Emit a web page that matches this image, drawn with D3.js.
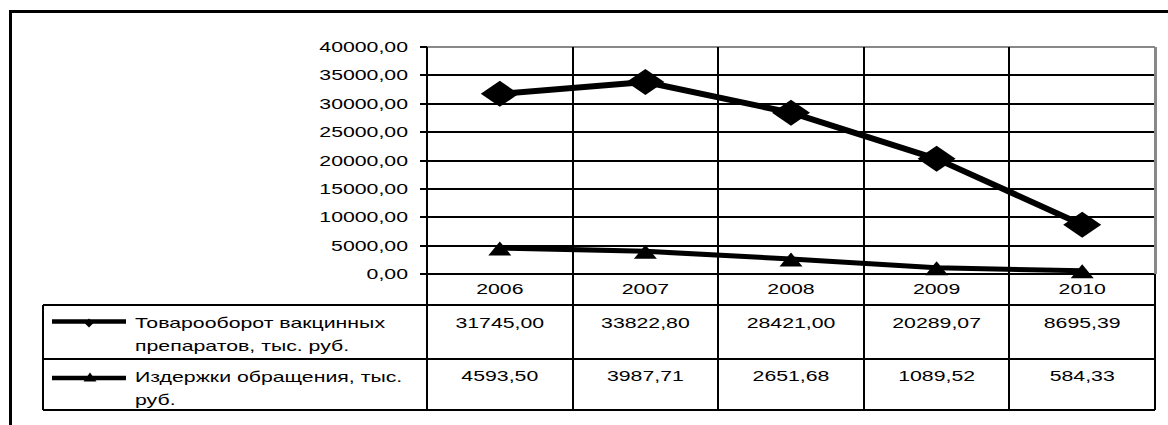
<!DOCTYPE html>
<html>
<head>
<meta charset="utf-8">
<script src="https://cdn.jsdelivr.net/npm/d3@7"></script>
<style>
  html, body { margin: 0; padding: 0; background: #fff; }
  svg { display: block; }
  text { font-family: "Liberation Sans", Arial, sans-serif; font-size: 14px; fill: #000; }
</style>
</head>
<body>
<svg id="chart" width="1168" height="425"></svg>
<script>
// ---- data ----
const categories = ["2006", "2007", "2008", "2009", "2010"];
const turnover = [31745.00, 33822.80, 28421.00, 20289.07, 8695.39];
const costs = [4593.50, 3987.71, 2651.68, 1089.52, 584.33];
const yTicks = [0, 5000, 10000, 15000, 20000, 25000, 30000, 35000, 40000];
const turnoverLabels = ["31745,00", "33822,80", "28421,00", "20289,07", "8695,39"];
const costsLabels = ["4593,50", "3987,71", "2651,68", "1089,52", "584,33"];
const turnoverName = ["Товарооборот вакцинных", "препаратов, тыс. руб."];
const costsName = ["Издержки обращения, тыс.", "руб."];

// ---- layout ----
const SX = 1.52; // horizontal stretch of the text in the reference
const plotL = 427, plotR = 1155, plotT = 47, plotB = 274;
const tableL = 43, row1T = 305, row2T = 359, tableB = 410;

const svg = d3.select("#chart");
const x = d3.scaleBand().domain(categories).range([plotL, plotR]);
const y = d3.scaleLinear().domain([0, 40000]).range([plotB, plotT]);
const cx = c => x(c) + x.bandwidth() / 2;
const fmt = v => v.toFixed(2).replace(".", ",");

function stretchedText(g, tx, ty, str, anchor) {
  return g.append("text")
    .attr("transform", `translate(${tx},${ty}) scale(${SX},1)`)
    .attr("text-anchor", anchor)
    .text(str);
}

// outer frame (partially visible)
svg.append("path").attr("d", "M10,425 V11 H1168")
  .attr("fill", "none").attr("stroke", "#000").attr("stroke-width", 3)
  .attr("shape-rendering", "crispEdges");

// horizontal gridlines
svg.append("g").attr("shape-rendering", "crispEdges")
  .selectAll("line").data(yTicks).join("line")
  .attr("x1", plotL).attr("x2", plotR)
  .attr("y1", d => Math.round(y(d))).attr("y2", d => Math.round(y(d)))
  .attr("stroke", d => d === 40000 ? "#888" : "#000")
  .attr("stroke-width", 2);

// vertical gridlines (through plot and table)
svg.append("g").attr("shape-rendering", "crispEdges")
  .selectAll("line").data(categories.slice(1)).join("line")
  .attr("x1", d => Math.round(x(d))).attr("x2", d => Math.round(x(d)))
  .attr("y1", plotT).attr("y2", tableB)
  .attr("stroke", "#000").attr("stroke-width", 2);

// right border
svg.append("line").attr("x1", plotR).attr("x2", plotR).attr("y1", plotT).attr("y2", plotB)
  .attr("stroke", "#888").attr("stroke-width", 3).attr("shape-rendering", "crispEdges");
svg.append("line").attr("x1", plotR).attr("x2", plotR).attr("y1", plotB).attr("y2", tableB)
  .attr("stroke", "#000").attr("stroke-width", 2).attr("shape-rendering", "crispEdges");

// y axis
const yAxis = svg.append("g").attr("transform", `translate(${plotL},0)`)
  .call(d3.axisLeft(y).tickValues(yTicks).tickSize(7).tickSizeOuter(0).tickFormat(fmt));
yAxis.select(".domain").remove();
yAxis.selectAll(".tick").attr("transform", d => `translate(0,${Math.round(y(d))})`);
yAxis.selectAll(".tick line").attr("stroke", "#000").attr("stroke-width", 2)
  .attr("shape-rendering", "crispEdges");
yAxis.selectAll(".tick text")
  .attr("x", null).attr("dy", null)
  .attr("transform", `translate(-19,5) scale(${SX},1)`)
  .attr("text-anchor", "end")
  .attr("fill", "#000")
  .style("font-family", '"Liberation Sans", Arial, sans-serif')
  .style("font-size", "14px");
svg.append("line").attr("x1", plotL).attr("x2", plotL).attr("y1", plotT).attr("y2", tableB)
  .attr("stroke", "#000").attr("stroke-width", 2.5).attr("shape-rendering", "crispEdges");

// table lines
[row1T, row2T, tableB].forEach(ty => {
  svg.append("line").attr("x1", tableL).attr("x2", plotR).attr("y1", ty).attr("y2", ty)
    .attr("stroke", "#000").attr("stroke-width", 2).attr("shape-rendering", "crispEdges");
});
svg.append("line").attr("x1", tableL).attr("x2", tableL).attr("y1", row1T).attr("y2", tableB)
  .attr("stroke", "#000").attr("stroke-width", 2).attr("shape-rendering", "crispEdges");

// table text
const tg = svg.append("g");
categories.forEach((c, i) => {
  stretchedText(tg, cx(c), 294, c, "middle");
  stretchedText(tg, cx(c), 328, turnoverLabels[i], "middle");
  stretchedText(tg, cx(c), 381, costsLabels[i], "middle");
});
turnoverName.forEach((s, i) => stretchedText(tg, 135, 328 + i * 23, s, "start"));
costsName.forEach((s, i) => stretchedText(tg, 135, 382 + i * 23, s, "start"));

// marker shapes
const diamond = (w, h) => `M${-w/2},0 L0,${-h/2} L${w/2},0 L0,${h/2} Z`;
const triangle = (w, h) => `M0,${-h/2} L${w/2},${h/2} L${-w/2},${h/2} Z`;

// legend keys
svg.append("line").attr("x1", 52).attr("x2", 126).attr("y1", 321.5).attr("y2", 321.5)
  .attr("stroke", "#000").attr("stroke-width", 4.5);
svg.append("path").attr("d", diamond(9, 9)).attr("transform", "translate(89,323)");
svg.append("line").attr("x1", 52).attr("x2", 126).attr("y1", 378).attr("y2", 378)
  .attr("stroke", "#000").attr("stroke-width", 4.5);
svg.append("path").attr("d", triangle(13, 9)).attr("transform", "translate(90,377)");

// series lines
const line = d3.line().x((d, i) => cx(categories[i])).y(d => y(d));
svg.append("path").datum(turnover).attr("d", line)
  .attr("fill", "none").attr("stroke", "#000").attr("stroke-width", 6).attr("stroke-linejoin", "round");
svg.append("path").datum(costs).attr("d", line)
  .attr("fill", "none").attr("stroke", "#000").attr("stroke-width", 5).attr("stroke-linejoin", "round");

// markers
svg.append("g").selectAll("path").data(turnover).join("path")
  .attr("d", diamond(38, 26))
  .attr("transform", (d, i) => `translate(${cx(categories[i])},${y(d)})`)
  .attr("fill", "#000");
svg.append("g").selectAll("path").data(costs).join("path")
  .attr("d", triangle(23, 14))
  .attr("transform", (d, i) => `translate(${cx(categories[i])},${y(d) + 0.5})`)
  .attr("fill", "#000");
</script>
</body>
</html>
